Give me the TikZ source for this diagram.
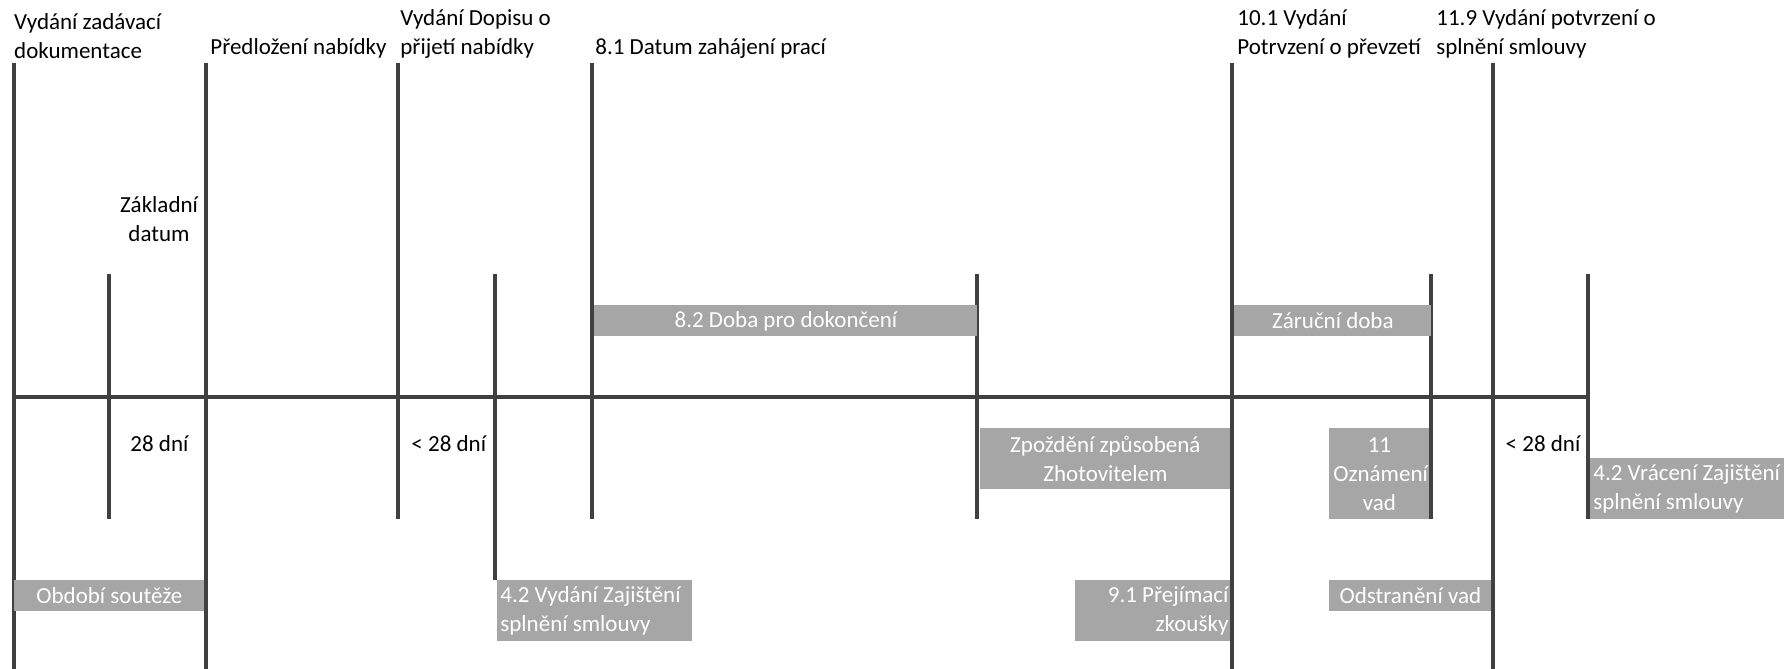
\documentclass[tikz,border=0pt]{standalone}
\usepackage{fontspec}
\setmainfont{Carlito}
\usepackage{tikz}
\usetikzlibrary{positioning}
\definecolor{lineGray}{HTML}{404040}
\definecolor{barGray}{HTML}{A6A6A6}

\begin{document}
\begin{tikzpicture}[
            x=1pt, y=-1pt,
            font=\fontsize{11.5}{14.6}\selectfont,
            milestone/.style={draw=lineGray, line width=1.7pt},
            axis line/.style={draw=lineGray, line width=2.3pt},
            period/.style={fill=barGray, text=white, anchor=north west, inner xsep=2pt, inner ysep=0pt},
            caption/.style={inner sep=0pt, align=flush left, anchor=south west},
            days/.style={inner sep=0pt},
            ]
            \useasboundingbox (0,0) rectangle (892,334.5);
            \def\T{31.3}
            \def\S{137}
            \def\M{259.5}
            \def\B{334.5}

            % milestone ends
            \coordinate (tenderTop) at (6.9,\T);
            \coordinate (tenderBot) at (6.9,\B);
            \coordinate (baseTop) at (54.5,\S);
            \coordinate (baseBot) at (54.5,\M);
            \coordinate (offerTop) at (103,\T);
            \coordinate (offerBot) at (103,\B);
            \coordinate (acceptTop) at (199,\T);
            \coordinate (acceptBot) at (199,\M);
            \coordinate (securityTop) at (247.5,\S);
            \coordinate (securityBot) at (247.5,290);
            \coordinate (startTop) at (296,\T);
            \coordinate (startBot) at (296,\M);
            \coordinate (complTop) at (488.5,\S);
            \coordinate (complBot) at (488.5,\M);
            \coordinate (takingTop) at (616,\T);
            \coordinate (takingBot) at (616,\B);
            \coordinate (noticeTop) at (715.5,\S);
            \coordinate (noticeBot) at (715.5,\M);
            \coordinate (perfTop) at (746.5,\T);
            \coordinate (perfBot) at (746.5,\B);
            \coordinate (releaseTop) at (794,\S);
            \coordinate (releaseBot) at (794,\M);
            \coordinate (axisL) at (6.9,198.5);
            \coordinate (axisR) at (794,198.5);

            \draw[milestone] (tenderTop) -- (tenderBot);
            \draw[milestone] (baseTop) -- (baseBot);
            \draw[milestone] (offerTop) -- (offerBot);
            \draw[milestone] (acceptTop) -- (acceptBot);
            \draw[milestone] (securityTop) -- (securityBot);
            \draw[milestone] (startTop) -- (startBot);
            \draw[milestone] (complTop) -- (complBot);
            \draw[milestone] (takingTop) -- (takingBot);
            \draw[milestone] (noticeTop) -- (noticeBot);
            \draw[milestone] (perfTop) -- (perfBot);
            \draw[milestone] (releaseTop) -- (releaseBot);
            \draw[axis line] (axisL) -- (axisR);

            % periods
            \node[period, text width=187.5pt, minimum height=15.5pt, align=flush center] (complBar) at (297,152.5) {8.2 Doba pro dokončení};
            \node[period, text width=94.5pt, minimum height=15.5pt, align=flush center] (warrantyBar) at (617,152.5) {Záruční doba};
            \node[period, text width=121pt, minimum height=30.5pt, align=flush center] (delayBar) at (490,214) {Zpoždění způsobená\\Zhotovitelem};
            \node[period, text width=46pt, minimum height=45.5pt, align=flush center] (noticeBar) at (664.5,214) {11\\Oznámení\\vad};
            \node[period, inner xsep=1.5pt, text width=100pt, minimum height=30.5pt, align=flush left] (releaseBar) at (795,229) {4.2 Vrácení Zajištění\\splnění smlouvy};
            \node[period, text width=91pt, minimum height=15.5pt, align=flush center] (tenderBar) at (7,290) {Období soutěže};
            \node[period, inner xsep=1.5pt, text width=94.5pt, minimum height=30.5pt, align=flush left] (securityBar) at (248.5,290) {4.2 Vydání Zajištění\\splnění smlouvy};
            \node[period, inner xsep=1pt, text width=75.5pt, minimum height=30.5pt, align=flush right] (testsBar) at (537.5,290) {9.1 Přejímací\\zkoušky};
            \node[period, text width=77pt, minimum height=15.5pt, align=flush center] (remedyBar) at (664.5,290) {Odstranění vad};

            % events
            \node[caption] (tenderLbl) at (6.9,29.5) {Vydání zadávací\\dokumentace};
            \node[caption] (offerLbl) at (105,29.5) {Předložení nabídky};
            \node[caption] (acceptLbl) at (200,29.5) {Vydání Dopisu o\\přijetí nabídky};
            \node[caption] (startLbl) at (297.5,29.5) {8.1 Datum zahájení prací};
            \node[caption] (takingLbl) at (618.5,29.5) {10.1 Vydání\\Potrvzení o převzetí};
            \node[caption] (perfLbl) at (718,29.5) {11.9 Vydání potvrzení o\\splnění smlouvy};
            \node[days, align=flush center] (baseLbl) at (79.5,109.5) {Základní\\datum};

            \node[days] (tenderDays) at (79.7,222) {28 dní};
            \node[days] (acceptDays) at (224.4,222) {< 28 dní};
            \node[days] (releaseDays) at (771.5,222) {< 28 dní};
\end{tikzpicture}
\end{document}
